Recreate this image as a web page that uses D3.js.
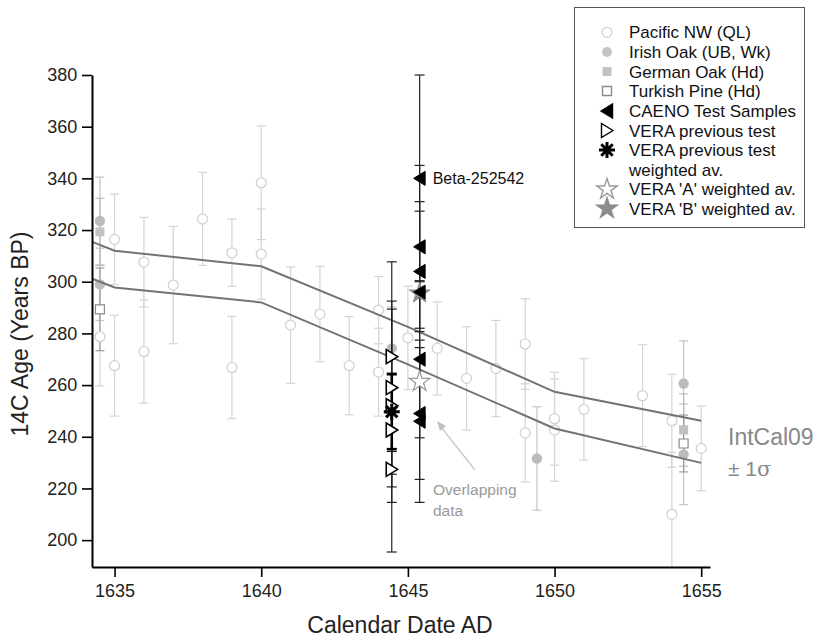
<!DOCTYPE html>
<html>
<head>
<meta charset="utf-8">
<script src="https://cdn.jsdelivr.net/npm/d3@7"></script>
<style>
  body { margin: 0; background: #fff; }
  svg text { font-family: "Liberation Sans", Arial, sans-serif; }
</style>
</head>
<body>
<script>
// IntCal09 +/- 1 sigma band edges
var intcalYears = [1630, 1635, 1640, 1645, 1650, 1655];
var intcalUpper = [334.5, 312, 306, 282.5, 257.4, 246.2];
var intcalLower = [319.8, 297.8, 292, 268, 243.2, 229.9];

// [calendar year, 14C age, 1 sigma]
var pacificNW = [
  [1634.5, 278.7, 19],
  [1635, 316.4, 17.5], [1635, 267.5, 19.5],
  [1636, 307.6, 17.3], [1636, 273, 20],
  [1637, 298.7, 22.7],
  [1638, 324.3, 18],
  [1639, 311.2, 13], [1639, 266.8, 19.8],
  [1640, 338.3, 22], [1640, 310.7, 17.5],
  [1641, 283.2, 22.5],
  [1642, 287.5, 18.5],
  [1643, 267.5, 19],
  [1644, 289, 13], [1644, 265, 17],
  [1645, 278.3, 20],
  [1646, 274.2, 18],
  [1647, 262.6, 20],
  [1648, 266.4, 18.6],
  [1649, 275.9, 17.5], [1649, 241.5, 19],
  [1650, 247, 18], [1650, 242.6, 19.8],
  [1651, 250.6, 19.6],
  [1653, 255.9, 19.7],
  [1654, 246.2, 18], [1654, 210, 24],
  [1655, 235.5, 16.4]
];
var irishOak = [
  [1634.5, 323.5, 17], [1634.5, 299, 14],
  [1644.45, 274.2, 16],
  [1649.4, 231.6, 20],
  [1654.4, 260.6, 16.5], [1654.4, 233.2, 19.5]
];
var germanOak = [[1634.5, 319.3, 13], [1654.4, 242.6, 14]];
var turkishPine = [[1634.5, 289.3, 16], [1654.4, 237.4, 11]];

var caenoSamples = [
  [1645.4, 340, 40], [1645.4, 313.5, 31.5], [1645.4, 304, 23.3],
  [1645.4, 296, 35], [1645.4, 270, 30.4], [1645.4, 249, 25.5],
  [1645.4, 246, 31.4]
];
var caenoLabel = "Beta-252542";
var veraPrevious = [
  [1644.45, 271, 36.7], [1644.45, 259, 33.5], [1644.45, 252, 37.4],
  [1644.45, 242.6, 22], [1644.45, 227.4, 32]
];
var veraPrevWeighted = [[1644.45, 249.7, 14.5]];
var veraA = [[1645.4, 261.3]];
var veraB = [[1645.4, 295.5]];

var legendLabels = [
  "Pacific NW (QL)", "Irish Oak (UB, Wk)", "German Oak (Hd)", "Turkish Pine (Hd)",
  "CAENO Test Samples", "VERA previous test", "VERA previous test",
  "weighted av.", "VERA 'A' weighted av.", "VERA 'B' weighted av."
];

var width = 815, height = 641;
var margin = {top: 75, right: 105, bottom: 74, left: 92};

var svg = d3.select("body").append("svg")
  .attr("width", width)
  .attr("height", height);

var x = d3.scaleLinear().domain([1634.23, 1655.3]).range([margin.left, width - margin.right]);
var y = d3.scaleLinear().domain([189.6, 380]).range([height - margin.bottom, margin.top]);

svg.append("clipPath").attr("id", "plot")
  .append("rect")
  .attr("x", margin.left).attr("y", 0)
  .attr("width", width - margin.right - margin.left + 1)
  .attr("height", height - margin.bottom);

var plot = svg.append("g").attr("clip-path", "url(#plot)");

// marker shapes
var triLeft = "M-6,0L5.5,-7L5.5,7Z";
var triRight = "M6,0L-5.5,-7L-5.5,7Z";
var asterisk = "M0,-8V8M-8,0H8M-5.7,-5.7L5.7,5.7M-5.7,5.7L5.7,-5.7";
var star = d3.symbol().type(d3.symbolStar).size(130)();
var square = "M-4.5,-4.5H4.5V4.5H-4.5Z";

function errorBars(g, data, color, w, capW) {
  data.forEach(function(d) {
    var y1 = y(d[1] + d[2]), y2 = y(d[1] - d[2]), cx = x(d[0]);
    g.append("line").attr("x1", cx).attr("x2", cx).attr("y1", y1).attr("y2", y2)
      .attr("stroke", color).attr("stroke-width", w);
    [y1, y2].forEach(function(cy) {
      g.append("line").attr("x1", cx - capW).attr("x2", cx + capW).attr("y1", cy).attr("y2", cy)
        .attr("stroke", color).attr("stroke-width", w);
    });
  });
}

function markers(g, data, path, fill, stroke, sw) {
  g.selectAll(null).data(data).enter().append("path")
    .attr("d", path)
    .attr("transform", function(d) { return "translate(" + x(d[0]) + "," + y(d[1]) + ")"; })
    .attr("fill", fill).attr("stroke", stroke).attr("stroke-width", sw);
}

// reference tree-ring data
errorBars(plot, pacificNW, "#d4d4d4", 1.2, 4.5);
errorBars(plot, irishOak, "#c4c4c4", 1.2, 4.5);
errorBars(plot, germanOak, "#bdbdbd", 1.2, 4.5);
errorBars(plot, turkishPine, "#9a9a9a", 1.2, 4.5);

plot.selectAll(".pnw").data(pacificNW).enter().append("circle")
  .attr("cx", function(d) { return x(d[0]); })
  .attr("cy", function(d) { return y(d[1]); })
  .attr("r", 5)
  .attr("fill", "#fff").attr("stroke", "#cfcfcf").attr("stroke-width", 1.2);

plot.selectAll(".oak").data(irishOak).enter().append("circle")
  .attr("cx", function(d) { return x(d[0]); })
  .attr("cy", function(d) { return y(d[1]); })
  .attr("r", 5.2)
  .attr("fill", "#bcbcbc");

markers(plot, germanOak, square, "#c2c2c2", "none", 0);
markers(plot, turkishPine, square, "#fff", "#8a8a8a", 1.2);

// IntCal09 curves
var line = d3.line().x(function(d) { return x(d[0]); }).y(function(d) { return y(d[1]); });
[intcalUpper, intcalLower].forEach(function(vals) {
  plot.append("path")
    .datum(intcalYears.map(function(yr, i) { return [yr, vals[i]]; }))
    .attr("d", line)
    .attr("fill", "none").attr("stroke", "#737373").attr("stroke-width", 2);
});

// test samples
errorBars(plot, veraPrevious, "#222", 1.2, 5);
errorBars(plot, caenoSamples, "#222", 1.2, 5);
errorBars(plot, veraPrevWeighted, "#000", 2.6, 5);

markers(plot, veraB, star, "#8c8c8c", "#8c8c8c", 1);
markers(plot, veraPrevious, triRight, "#fff", "#000", 1.6);
markers(plot, veraPrevWeighted, asterisk, "none", "#000", 3);
markers(plot, caenoSamples, triLeft, "#000", "#000", 1);
markers(plot, veraA, star, "#fff", "#999", 1.2);

svg.append("text")
  .attr("x", x(caenoSamples[0][0]) + 13).attr("y", y(caenoSamples[0][1]))
  .attr("dy", "0.35em")
  .attr("font-size", 16).attr("fill", "#111")
  .text(caenoLabel);

// annotation
svg.append("line")
  .attr("x1", 475).attr("y1", 470).attr("x2", 441).attr("y2", 427)
  .attr("stroke", "#c8c8c8").attr("stroke-width", 1.3);
svg.append("path")
  .attr("d", "M437,421L446,426L440,431Z")
  .attr("fill", "#c0c0c0");
var ann = svg.append("text").attr("x", 433).attr("y", 495)
  .attr("font-size", 15.5).attr("fill", "#9a9a9a");
ann.append("tspan").attr("x", 433).text("Overlapping");
ann.append("tspan").attr("x", 433).attr("dy", 21).text("data");

var ic = svg.append("text").attr("x", 728).attr("y", 445)
  .attr("font-size", 23).attr("fill", "#888");
ic.append("tspan").attr("x", 728).text("IntCal09");
ic.append("tspan").attr("x", 728).attr("dy", 31).attr("font-size", 21).text("\u00b1 1");
ic.append("tspan").attr("font-size", 21).attr("font-family", "DejaVu Serif, serif").text("\u03c3");

// axes
var xAxis = svg.append("g").attr("transform", "translate(0," + (height - margin.bottom) + ")");
xAxis.call(d3.axisBottom(x).tickValues(d3.range(1635, 1656, 1)).tickSize(6).tickSizeOuter(0).tickFormat(""));
xAxis.call(d3.axisBottom(x).tickValues(d3.range(1635, 1656, 5)).tickSize(10).tickSizeOuter(0).tickFormat(d3.format("d")));
var yAxis = svg.append("g").attr("transform", "translate(" + margin.left + ",0)");
yAxis.call(d3.axisLeft(y).tickValues(d3.range(210, 380, 20)).tickSize(6).tickSizeOuter(0).tickFormat(""));
yAxis.call(d3.axisLeft(y).tickValues(d3.range(200, 381, 20)).tickSize(10).tickSizeOuter(0));

svg.selectAll(".domain").attr("stroke", "#000").attr("stroke-width", 2);
svg.selectAll(".tick line").attr("stroke", "#000").attr("stroke-width", 1.6);
svg.selectAll(".tick text").attr("font-size", 18).attr("fill", "#222")
  .attr("font-family", "Liberation Sans, Arial, sans-serif");
xAxis.selectAll(".tick text").attr("dy", "0.95em");
yAxis.selectAll(".tick text").attr("dx", "-0.1em");

svg.append("text")
  .attr("x", (margin.left + width - margin.right) / 2 - 1).attr("y", 633)
  .attr("text-anchor", "middle").attr("font-size", 23).attr("fill", "#222")
  .text("Calendar Date AD");
svg.append("text")
  .attr("transform", "translate(28,334) rotate(-90)")
  .attr("text-anchor", "middle").attr("font-size", 23).attr("fill", "#222")
  .text("14C Age (Years BP)");

// legend
var legend = svg.append("g");
legend.append("rect").attr("x", 574.5).attr("y", 7.5).attr("width", 230).attr("height", 220)
  .attr("fill", "#fff").attr("stroke", "#555").attr("stroke-width", 1);
var rowY = [32.3, 52, 71.5, 91, 111, 130.5, 150, 169.5, 189.3, 208.5];
var legendSymbols = [
  {d: "circle", fill: "#fff", stroke: "#cfcfcf"},
  {d: "dot", fill: "#c4c4c4", stroke: "none"},
  {d: square, fill: "#c2c2c2", stroke: "none"},
  {d: square, fill: "#fff", stroke: "#8a8a8a"},
  {d: triLeft, fill: "#000", stroke: "#000"},
  {d: triRight, fill: "#fff", stroke: "#000"},
  {d: asterisk, fill: "none", stroke: "#000", sw: 3},
  null,
  {d: star, fill: "#fff", stroke: "#999"},
  {d: star, fill: "#8c8c8c", stroke: "#8c8c8c"}
];
legendLabels.forEach(function(lbl, i) {
  var s = legendSymbols[i];
  if (s) {
    if (s.d === "circle" || s.d === "dot") {
      legend.append("circle").attr("cx", 607).attr("cy", rowY[i]).attr("r", 5)
        .attr("fill", s.fill).attr("stroke", s.stroke).attr("stroke-width", 1.2);
    } else {
      legend.append("path").attr("d", s.d)
        .attr("transform", "translate(607," + rowY[i] + ")")
        .attr("fill", s.fill).attr("stroke", s.stroke).attr("stroke-width", s.sw || 1.4);
    }
  }
  legend.append("text").attr("x", 629).attr("y", rowY[i]).attr("dy", "0.36em")
    .attr("font-size", 17).attr("fill", "#111").text(lbl);
});
</script>
</body>
</html>
